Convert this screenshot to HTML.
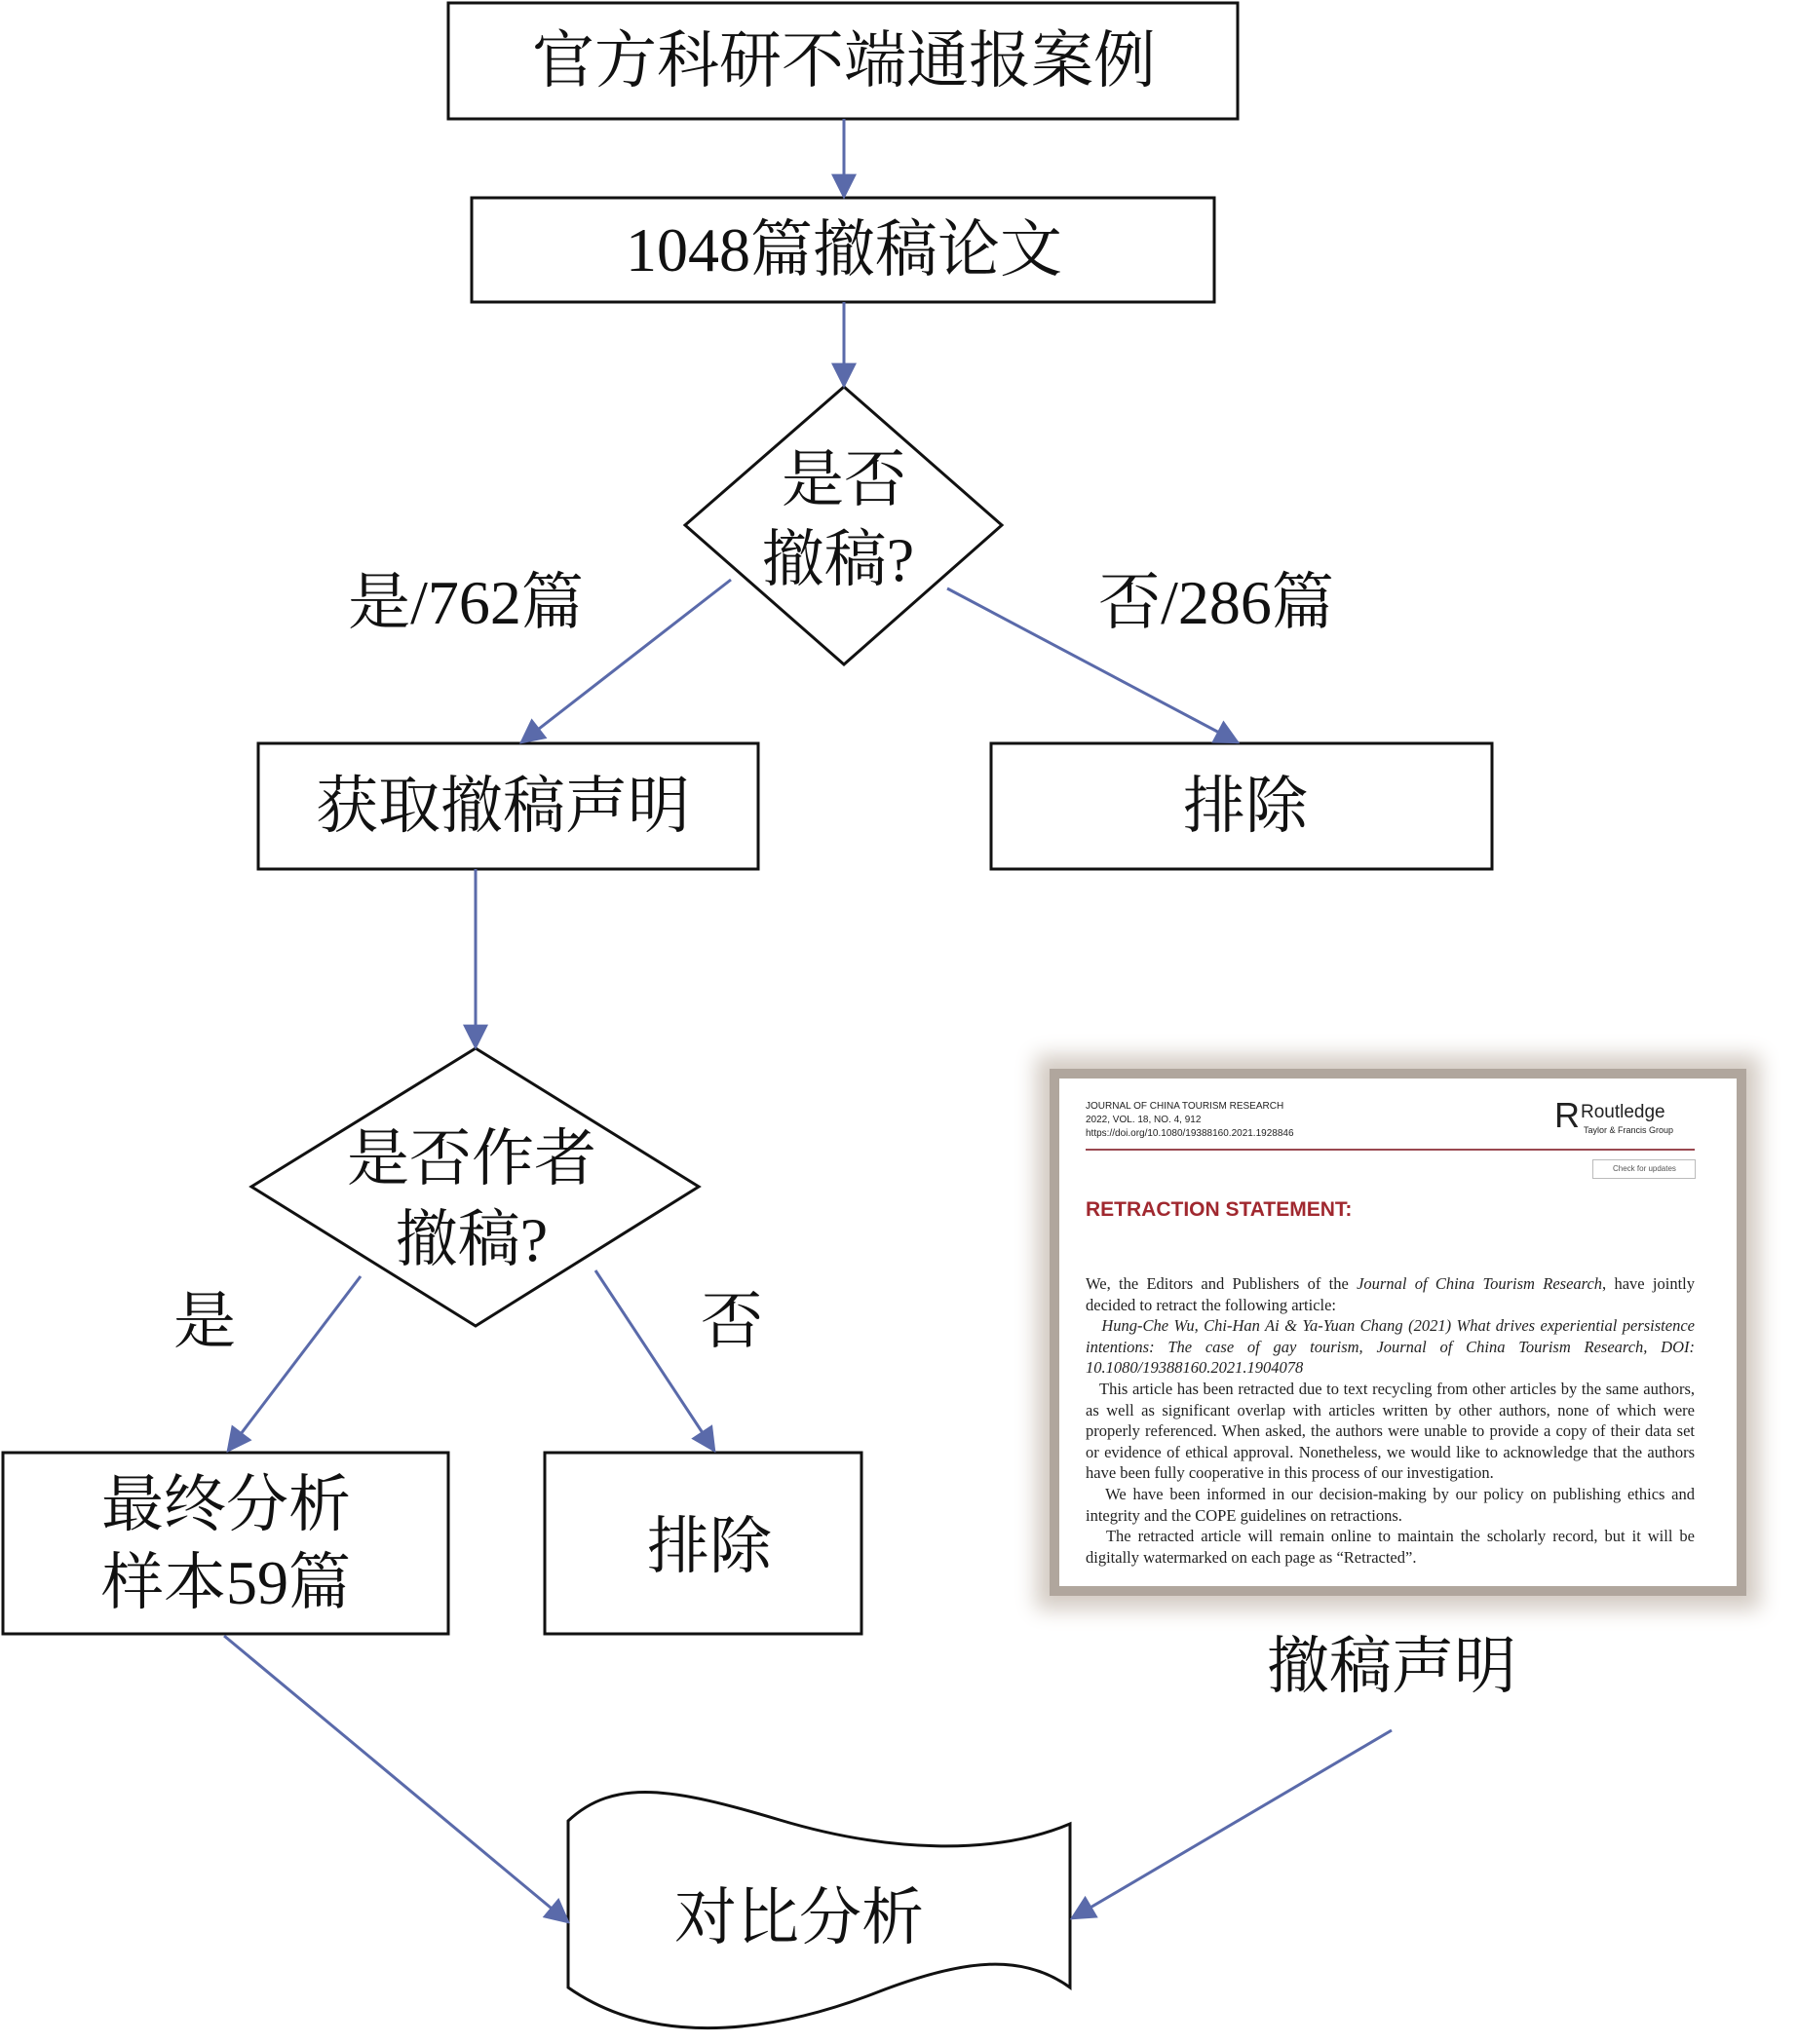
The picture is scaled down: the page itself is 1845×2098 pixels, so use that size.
<!DOCTYPE html>
<html><head><meta charset="utf-8"><style>
html,body{margin:0;padding:0;background:#fff;}
body{width:1845px;height:2098px;position:relative;overflow:hidden;font-family:"Liberation Serif","Noto Serif CJK SC",serif;}
.t{position:absolute;font-size:64px;color:#111;white-space:nowrap;transform:translate(-50%,-50%);line-height:1;}
.paper{position:absolute;left:1087px;top:1107px;width:695px;height:521px;background:#fff;box-shadow:0 0 0 10px #b0a69d,0 0 20px 24px #d4ccc4;}
.pt{position:absolute;font-family:"Liberation Serif",serif;color:#222;}
</style></head><body>
<svg width="1845" height="2098" style="position:absolute;left:0;top:0">
<defs>
<marker id="b" viewBox="0 0 10 10" refX="9" refY="5" markerWidth="30" markerHeight="26" orient="auto" markerUnits="userSpaceOnUse"><path d="M0,0 L10,5 L0,10 z" fill="#5a6aaa"/></marker></defs>
<g fill="none" stroke="#111" stroke-width="3">
<rect x="460" y="3" width="810" height="119"/>
<rect x="484" y="203" width="762" height="107"/>
<polygon points="866,397 1028,539 866,682 703,539"/>
<rect x="265" y="763" width="513" height="129"/>
<rect x="1017" y="763" width="514" height="129"/>
<polygon points="488,1076 717,1218 488,1361 258,1218"/>
<rect x="3" y="1491" width="457" height="186"/>
<rect x="559" y="1491" width="325" height="186"/>
<path d="M583,1869 C630,1825 690,1835 800,1868 S1020,1905 1098,1872 L1098,2040 C1050,2005 990,2010 900,2045 S680,2108 583,2040 Z"/>
</g>
<g stroke="#5a6aaa" stroke-width="3" fill="none">
<line x1="866" y1="122" x2="866" y2="202" marker-end="url(#b)"/>
<line x1="866" y1="310" x2="866" y2="396" marker-end="url(#b)"/>
<line x1="750" y1="595" x2="535" y2="762" marker-end="url(#b)"/>
<line x1="972" y1="604" x2="1270" y2="762" marker-end="url(#b)"/>
<line x1="488" y1="892" x2="488" y2="1075" marker-end="url(#b)"/>
<line x1="370" y1="1310" x2="234" y2="1489" marker-end="url(#b)"/>
<line x1="611" y1="1304" x2="733" y2="1489" marker-end="url(#b)"/>
<line x1="230" y1="1679" x2="583" y2="1973" marker-end="url(#b)"/>
<line x1="1428" y1="1776" x2="1100" y2="1969" marker-end="url(#b)"/>
</g>
</svg>
<div class="t" style="left:866px;top:63px">官方科研不端通报案例</div>
<div class="t" style="left:866px;top:257px">1048篇撤稿论文</div>
<div class="t" style="left:866px;top:493px">是否</div>
<div class="t" style="left:860px;top:575px">撤稿?</div>
<div class="t" style="left:478px;top:619px">是/762篇</div>
<div class="t" style="left:1248px;top:619px">否/286篇</div>
<div class="t" style="left:516px;top:828px">获取撤稿声明</div>
<div class="t" style="left:1278px;top:828px">排除</div>
<div class="t" style="left:484px;top:1190px">是否作者</div>
<div class="t" style="left:484px;top:1273px">撤稿?</div>
<div class="t" style="left:210px;top:1357px">是</div>
<div class="t" style="left:751px;top:1357px">否</div>
<div class="t" style="left:232px;top:1545px">最终分析</div>
<div class="t" style="left:232px;top:1625px">样本59篇</div>
<div class="t" style="left:728px;top:1588px">排除</div>
<div class="t" style="left:1428px;top:1711px">撤稿声明</div>
<div class="t" style="left:820px;top:1969px">对比分析</div>
<div class="paper">
<div class="pt" style="left:27px;top:22px;font-size:10px;line-height:14px;font-family:'Liberation Sans',sans-serif">JOURNAL OF CHINA TOURISM RESEARCH<br>2022, VOL. 18, NO. 4, 912<br>https://doi.org/10.1080/19388160.2021.1928846</div>
<div class="pt" style="left:508px;top:20px;font-size:36px;font-family:'Liberation Sans',sans-serif;line-height:1">R</div>
<div class="pt" style="left:535px;top:24px;font-size:19px;font-family:'Liberation Sans',sans-serif">Routledge</div>
<div class="pt" style="left:538px;top:48px;font-size:9px;font-family:'Liberation Sans',sans-serif">Taylor &amp; Francis Group</div>
<div style="position:absolute;left:27px;top:72px;width:625px;height:2px;background:#9a4850"></div>
<div style="position:absolute;left:547px;top:83px;width:104px;height:18px;border:1px solid #bbb;font:8px 'Liberation Sans',sans-serif;color:#555;line-height:18px;text-indent:20px">Check for updates</div>
<div class="pt" style="left:27px;top:123px;font-size:21px;font-weight:bold;color:#a0282f;font-family:'Liberation Sans',sans-serif">RETRACTION STATEMENT:</div>
<div class="pt" style="left:27px;top:200px;width:625px;font-size:16.5px;line-height:21.6px;text-align:justify">We, the Editors and Publishers of the <i>Journal of China Tourism Research</i>, have jointly decided to retract the following article:<br>&nbsp;&nbsp;&nbsp;<i>Hung-Che Wu, Chi-Han Ai &amp; Ya-Yuan Chang (2021) What drives experiential persistence intentions: The case of gay tourism, Journal of China Tourism Research, DOI: 10.1080/19388160.2021.1904078</i><br>&nbsp;&nbsp;&nbsp;This article has been retracted due to text recycling from other articles by the same authors, as well as significant overlap with articles written by other authors, none of which were properly referenced. When asked, the authors were unable to provide a copy of their data set or evidence of ethical approval. Nonetheless, we would like to acknowledge that the authors have been fully cooperative in this process of our investigation.<br>&nbsp;&nbsp;&nbsp;We have been informed in our decision-making by our policy on publishing ethics and integrity and the COPE guidelines on retractions.<br>&nbsp;&nbsp;&nbsp;The retracted article will remain online to maintain the scholarly record, but it will be digitally watermarked on each page as “Retracted”.</div>
</div>
</body></html>
